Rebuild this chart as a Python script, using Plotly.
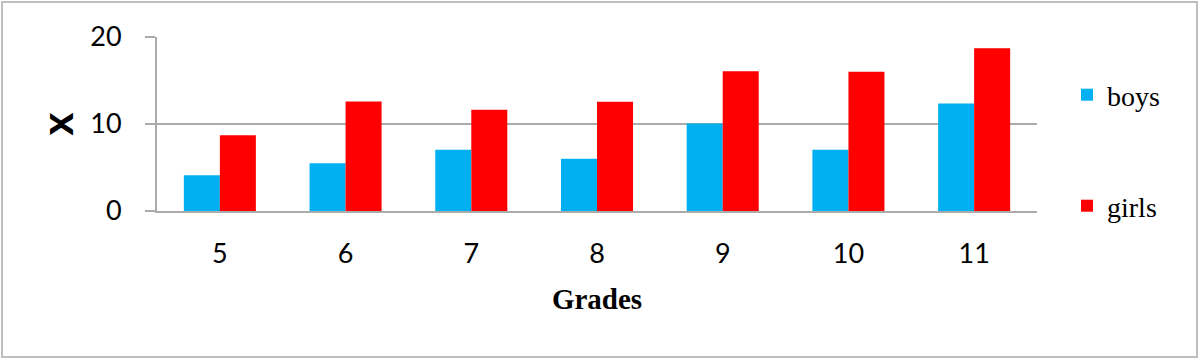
import plotly.graph_objects as go

grades = ["5", "6", "7", "8", "9", "10", "11"]
boys = [4.1, 5.5, 7.05, 6.0, 10.05, 7.05, 12.35]
girls = [8.7, 12.6, 11.65, 12.55, 16.05, 16.0, 18.7]

GRID = "#ababab"
W, H = 1200, 359
ml, mr, mt, mb = 157, 163, 37, 148
pw, ph = W - ml - mr, H - mt - mb

def px2x(px):
    return (px - ml) / pw

def py2y(py):
    return (H - mb - py) / ph

fig = go.Figure()
fig.add_trace(go.Bar(x=grades, y=boys, name="boys", marker=dict(color="#00B0F0", line=dict(width=0)), legend="legend"))
fig.add_trace(go.Bar(x=grades, y=girls, name="girls", marker=dict(color="#FF0000", line=dict(width=0)), legend="legend2"))

fig.update_layout(
    width=W, height=H,
    margin=dict(l=ml, r=mr, t=mt, b=mb, autoexpand=False),
    paper_bgcolor="white", plot_bgcolor="white",
    showlegend=True,
    barmode="group", bargap=0.427, bargroupgap=0,
    font=dict(family="Lato", size=27, color="black"),
    legend=dict(x=px2x(1067), y=py2y(95), xanchor="left", yanchor="middle",
                font=dict(family="Liberation Serif", size=28, color="black"),
                bgcolor="rgba(0,0,0,0)", visible=True),
    legend2=dict(x=px2x(1067), y=py2y(206), xanchor="left", yanchor="middle",
                 font=dict(family="Liberation Serif", size=28, color="black"),
                 bgcolor="rgba(0,0,0,0)", visible=True),
    xaxis=dict(
        showline=True, linecolor=GRID, linewidth=2,
        showgrid=False, ticks="", ticklabelstandoff=18,
        tickfont=dict(family="Lato", size=27),
        title=dict(text="<b>Grades</b>", font=dict(family="Liberation Serif", size=29), standoff=20),
    ),
    yaxis=dict(
        range=[0, 20], tickvals=[0, 10, 20],
        showgrid=True, gridcolor=GRID, gridwidth=2,
        zeroline=False,
        showline=True, linecolor=GRID, linewidth=2,
        ticks="outside", ticklen=10, tickcolor=GRID, tickwidth=2,
        ticklabelstandoff=18,
        tickfont=dict(family="Lato", size=27),
        title=dict(text="<b>x</b>", font=dict(family="Lato", size=44), standoff=3),
    ),
    shapes=[dict(type="rect", xref="paper", yref="paper",
                 x0=px2x(2), x1=px2x(1197), y0=py2y(357), y1=py2y(2),
                 line=dict(color="#bfbfbf", width=2), fillcolor="rgba(0,0,0,0)", layer="below")],
)

fig.write_html("out.html", config={"displayModeBar": False},
               post_script="document.body.style.margin='0';document.body.style.overflow='hidden';")
